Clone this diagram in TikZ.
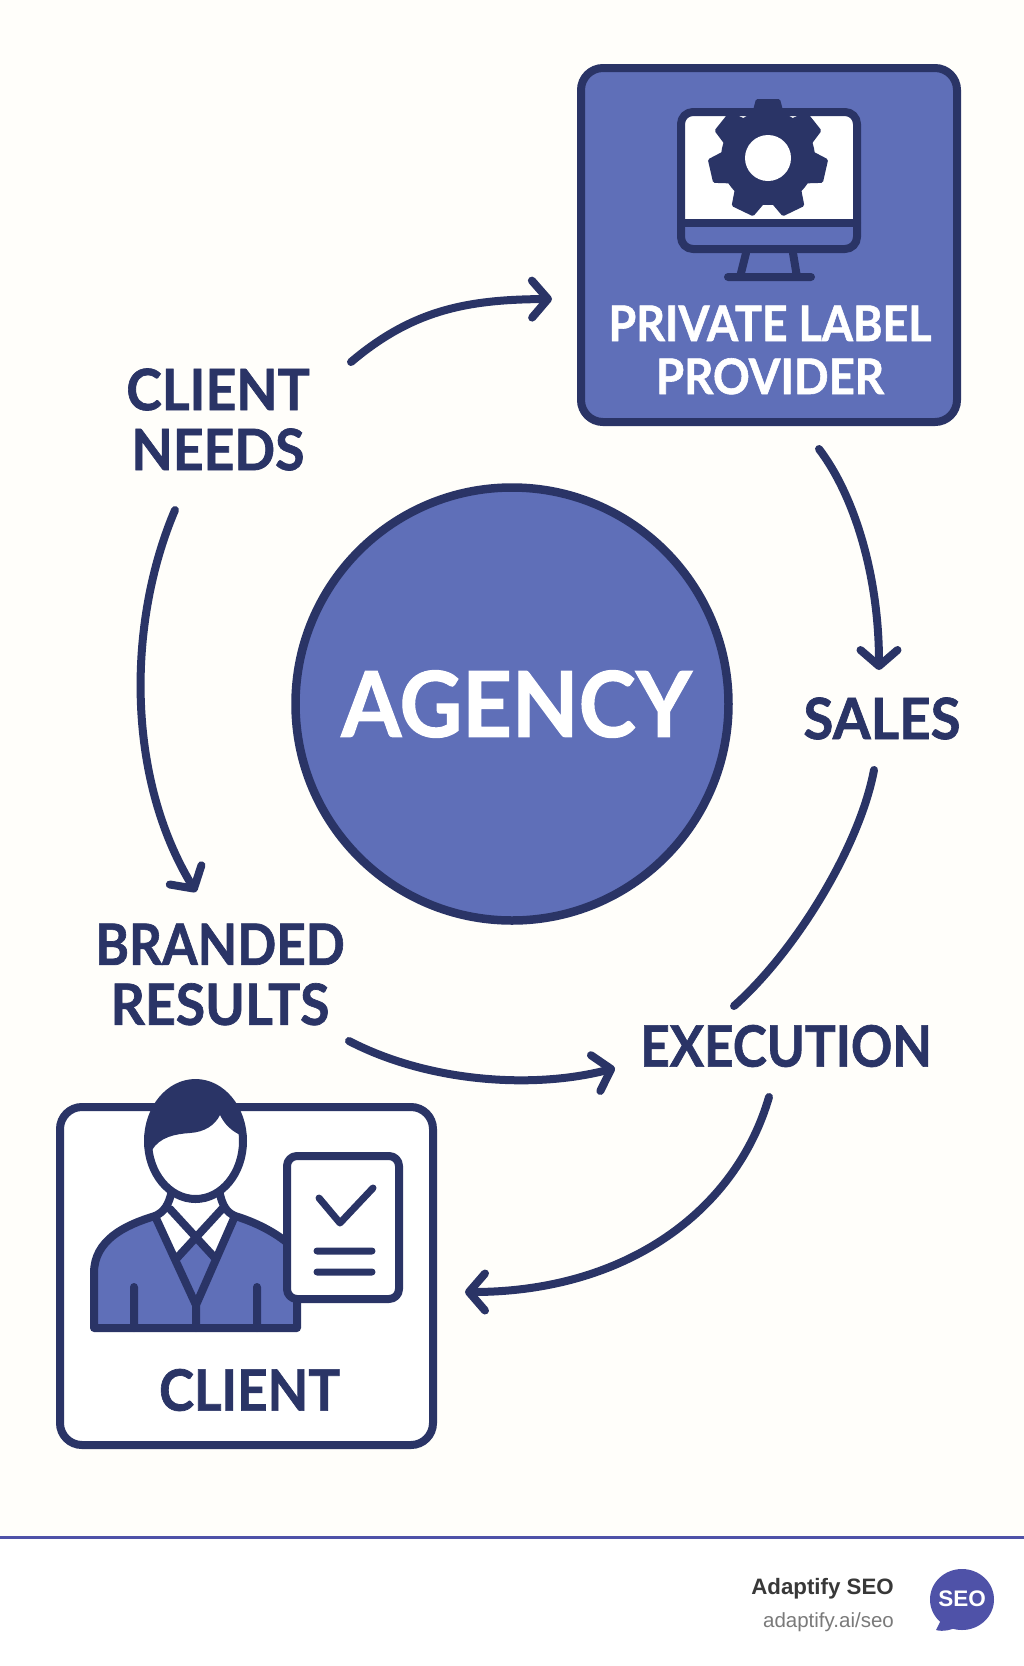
\documentclass[tikz,border=0pt]{standalone}
\usepackage{fontspec}
\setmainfont{Liberation Sans}
\newfontfamily\lblfont[BoldFeatures={FakeBold=1.2}]{Lato}
\usetikzlibrary{arrows.meta}
\definecolor{ink}{HTML}{2A3466}
\definecolor{blu}{HTML}{5F6FB8}
\definecolor{paper}{HTML}{FFFEFA}
\definecolor{foot}{HTML}{4F52A8}
\newcommand{\sxx}[2]{\scalebox{#1}[1]{#2}}
\tikzset{
  flow/.style={ink,line width=8pt,line cap=round,-{Straight Barb[length=16pt,width=37pt,line cap=round,line join=round]}},
  flowplain/.style={ink,line width=8pt,line cap=round},
  icon/.style={ink,line width=8pt,line cap=round,line join=round},
  lbl/.style={text=ink,font=\lblfont\bfseries\fontsize{57}{60}\selectfont,align=center,inner sep=0pt},
  wlbl/.style={text=white,font=\lblfont\bfseries\fontsize{49}{53}\selectfont,align=center,inner sep=0pt},
  panel/.style={draw=ink,line width=8pt,rounded corners=22pt,inner sep=0pt},
}
\begin{document}
\begin{tikzpicture}[x=1pt,y=-1pt]
\useasboundingbox (0,0) rectangle (1024,1666);
\fill[paper] (0,0) rectangle (1024,1537);
\fill[white] (0,1537) rectangle (1024,1666);
\draw[foot,line width=3pt] (0,1537) -- (1024,1537);

% Agency
\node[circle,draw=ink,fill=blu,line width=8.5pt,minimum size=433pt,inner sep=0pt,text=white,font=\lblfont\bfseries\fontsize{91}{94}\selectfont] (agency) at (512,704) {\hspace*{9pt}\sxx{.95}{AGENCY}};

% Provider
\node[panel,fill=blu,minimum width=376pt,minimum height=354pt] (provider) at (769,245) {};
\fill[white,rounded corners=12pt] (681,223) -- (681,112) -- (857,112) -- (857,223) -- cycle;
\fill[blu,rounded corners=12pt] (681,223) -- (681,249) -- (857,249) -- (857,223) -- cycle;
\fill[blu] (683,223) rectangle (855,235);
\draw[icon,rounded corners=12pt] (681,223) -- (681,112) -- (857,112) -- (857,249) -- (681,249) -- cycle;
\draw[icon] (681,223) -- (857,223);
\draw[icon] (746,253) -- (740,277) (793,253) -- (797,277) (728,277) -- (811,277);
\fill[ink] (768,158) circle[radius=47pt];
\foreach \a in {0,51.43,102.86,154.29,205.71,257.14,308.57}{
  \fill[ink,rotate around={\a:(768,158)},rounded corners=1.5pt] (751,118) -- (756,99) -- (780,99) -- (785,118) -- cycle;
}
\fill[white] (768,158) circle[radius=23pt];
\node[wlbl] (plp) at (770,350) {\sxx{.915}{PRIVATE LABEL}\\\sxx{.93}{PROVIDER}};

% Client
\node[panel,fill=white,minimum width=373pt,minimum height=338pt] (client) at (246.5,1276) {};
\fill[blu] (94,1328) -- (94,1273) .. controls (94,1240) and (125,1225) .. (155,1216) -- (235,1216) .. controls (255,1222) and (275,1232) .. (290,1245) -- (297,1328) -- cycle;
\fill[white] (155,1216) -- (196,1305) -- (235,1216) -- (225,1190) -- (165,1190) -- cycle;
\fill[blu] (196,1243) -- (175,1262) -- (196,1305) -- (216,1262) -- cycle;
\draw[icon] (290,1245) .. controls (275,1232) and (255,1222) .. (235,1216) .. controls (226,1212) and (222,1205) .. (219,1190)
   (172,1190) .. controls (169,1205) and (164,1212) .. (155,1216) .. controls (125,1225) and (94,1240) .. (94,1273) -- (94,1328) -- (297,1328) -- (297,1295);
\draw[icon] (155,1216) -- (196,1305) -- (235,1216) (196,1305) -- (196,1328)
   (170,1209) -- (215,1258) (222,1209) -- (177,1258)
   (134,1287) -- (134,1328) (257,1287) -- (257,1328);
\draw[icon,fill=white] (195.5,1141) ellipse[x radius=47.5pt,y radius=58pt];
\begin{scope}
  \clip (195.5,1141) ellipse[x radius=47.5pt,y radius=58pt];
  \fill[ink] (140,1155) -- (152,1150) .. controls (160,1137) and (175,1134) .. (190,1133) .. controls (205,1132) and (215,1125) .. (220,1115) .. controls (225,1125) and (232,1132) .. (245,1137) -- (250,1070) -- (140,1070) -- cycle;
\end{scope}
\draw[icon,fill=white,rounded corners=10pt] (287,1156) -- (399,1156) -- (399,1299) -- (287,1299) -- cycle;
\draw[icon,line width=7pt] (319,1198) -- (340,1223) -- (373,1188) (317,1251) -- (372,1251) (317,1272) -- (372,1272);
\node[lbl] (clientlbl) at (249.5,1390) {\sxx{.927}{CLIENT}};

% Labels
\node[lbl] (needs) at (218,419.5) {\sxx{.94}{CLIENT}\\\sxx{.94}{NEEDS}};
\node[lbl] (branded) at (220,974.5) {\sxx{.9}{BRANDED}\\\sxx{.94}{RESULTS}};
\node[lbl] (sales) at (882,718.5) {\sxx{.96}{SALES}};
\node[lbl] (execution) at (786,1046) {\sxx{.9}{EXECUTION}};

% Connectors
\draw[flow] ([shift={(133,-57.5)}]needs.center) .. controls ([shift={(195,-110)}]needs.center) and ([shift={(250,-120)}]needs.center) .. ([shift={(-217,54)}]provider.center);
\draw[flow] ([shift={(50,204)}]provider.center) .. controls ([shift={(85,250)}]provider.center) and ([shift={(110,330)}]provider.center) .. ([shift={(110,425)}]provider.center);
\draw[flowplain] ([shift={(-8,51.5)}]sales.center) .. controls ([shift={(-22,126.5)}]sales.center) and ([shift={(-85,231.5)}]sales.center) .. ([shift={(-148,287.5)}]sales.center);
\draw[flow] ([shift={(-17,51)}]execution.center) .. controls ([shift={(-50,165)}]execution.center) and ([shift={(-160,246)}]execution.center) .. ([shift={(-321,246)}]execution.center);
\draw[flow] ([shift={(129,66.5)}]branded.center) .. controls ([shift={(210,108.5)}]branded.center) and ([shift={(315,114.5)}]branded.center) .. ([shift={(395,93.5)}]branded.center);
\draw[flow] ([shift={(-43,90.5)}]needs.center) .. controls ([shift={(-90,200.5)}]needs.center) and ([shift={(-93,355.5)}]needs.center) .. ([shift={(-22,472.5)}]needs.center);

% Footer
\node[anchor=base east,inner sep=0pt,font=\bfseries\fontsize{22.3}{24}\selectfont,text=black!78] (brand) at (894,1594) {Adaptify SEO};
\node[anchor=base east,inner sep=0pt,font=\fontsize{20.5}{22}\selectfont,text=black!52] (url) at (894,1627) {adaptify.ai/seo};
\fill[foot] (962,1599.5) ellipse[x radius=32pt,y radius=30.5pt] (942,1618) -- (936,1630) .. controls (944,1632) and (950,1630) .. (958,1627) -- cycle;
\node[inner sep=0pt,text=white,font=\bfseries\fontsize{22.5}{22}\selectfont] (seo) at (962,1599) {SEO};
\end{tikzpicture}
\end{document}
